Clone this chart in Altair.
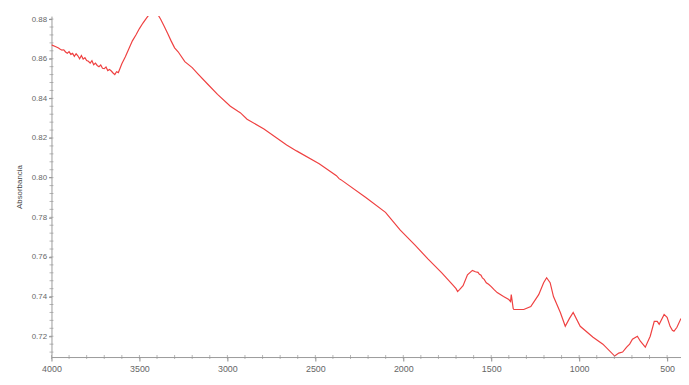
import altair as alt
import pandas as pd

wavenumber = [4000, 3975, 3960, 3950, 3940, 3930, 3920, 3910, 3900, 3890, 3880, 3870,
              3860, 3850, 3840, 3830, 3820, 3810, 3800, 3790, 3780, 3770, 3760, 3750,
              3740, 3730, 3720, 3710, 3700, 3690, 3680, 3670, 3660, 3650, 3640, 3630,
              3620, 3610, 3600, 3580, 3560, 3540, 3520, 3500, 3480, 3460,
              3440, 3420, 3400, 3380, 3360, 3340, 3320, 3300, 3280, 3242, 3200, 3169,
              3110, 3056, 2983, 2940, 2927, 2915, 2888, 2792, 2663, 2607, 2478, 2380,
              2365, 2355, 2213, 2101, 2017, 1933, 1860, 1781, 1720, 1700, 1691, 1680,
              1660, 1635, 1607, 1590, 1575, 1567, 1558, 1550, 1540, 1528, 1515, 1500,
              1485, 1466, 1430, 1400, 1390,
              1386, 1382, 1375, 1371, 1340, 1315, 1275, 1230, 1202, 1185, 1165, 1146,
              1107, 1079, 1055, 1034, 994, 921, 865, 798, 775, 753, 730, 713, 697, 669,
              652, 624, 596, 573, 556, 545, 517, 500, 483, 470, 461, 444, 421]
absorbance = [0.8670, 0.8660, 0.8654, 0.8648, 0.8643, 0.8645, 0.8634, 0.8628, 0.8636,
              0.8622, 0.8627, 0.8612, 0.8625, 0.8615, 0.8600, 0.8616, 0.8598, 0.8605,
              0.8591, 0.8587, 0.8578, 0.8590, 0.8570, 0.8578, 0.8566, 0.8560, 0.8568,
              0.8552, 0.8550, 0.8558, 0.8540, 0.8546, 0.8538, 0.8528, 0.8520, 0.8534,
              0.8530, 0.8552, 0.8575, 0.8610, 0.8650, 0.8690, 0.8720, 0.8752, 0.8780,
              0.8805,
              0.8828, 0.8840, 0.8830, 0.8800, 0.8765, 0.8728, 0.8690, 0.8655, 0.8635,
              0.8585, 0.8555, 0.8525, 0.8470, 0.8420, 0.8360, 0.8335, 0.8328, 0.8318,
              0.8295, 0.8245, 0.8165, 0.8135, 0.8070, 0.8010, 0.7995, 0.7990, 0.7900,
              0.7825, 0.7735, 0.7660, 0.7590, 0.7520, 0.7460, 0.7440, 0.7425, 0.7435,
              0.7455, 0.7510, 0.7532, 0.7525, 0.7522, 0.7512, 0.7508, 0.7494, 0.7487,
              0.7470, 0.7462, 0.7450, 0.7436, 0.7420,
              0.7400, 0.7385, 0.7375, 0.7410, 0.7385, 0.7340, 0.7335, 0.7335, 0.7335,
              0.7350, 0.7410, 0.7470, 0.7495, 0.7470, 0.7400, 0.7320, 0.7250, 0.7290,
              0.7320, 0.7250, 0.7195, 0.7160, 0.7100, 0.7115, 0.7120, 0.7145, 0.7160,
              0.7185, 0.7200, 0.7175, 0.7145, 0.7200, 0.7275, 0.7275, 0.7260, 0.7310,
              0.7295, 0.7250, 0.7230, 0.7225, 0.7245, 0.7290]

x_major = [4000, 3500, 3000, 2500, 2000, 1500, 1000, 500]
x_minor = list(range(4000, 420, -100))
y_major = [0.72, 0.74, 0.76, 0.78, 0.80, 0.82, 0.84, 0.86, 0.88]
y_minor = [round(0.712 + 0.004 * i, 3) for i in range(43)]

df = pd.DataFrame({"wn": wavenumber, "a": absorbance})

W, H = 637, 345
xs = alt.Scale(domain=[4000, 421], nice=False, zero=False)
ys = alt.Scale(domain=[0.7095, 0.8815], nice=False, zero=False)
lab_font = "Liberation Sans Narrow, Liberation Sans, sans-serif"

x_axis = alt.Axis(
    values=x_major, format="d", title="Número de Ondas (cm-1)",
    titleFontSize=8, titleFont="Liberation Sans", titleColor="#444", titleFontWeight="normal",
    titlePadding=6, labelFontSize=9, labelFont=lab_font, labelColor="#666",
    labelFlush=False, labelOverlap=False,
    tickSize=4, tickColor="#888", domainColor="#999", labelPadding=4, grid=False)
y_axis = alt.Axis(
    values=y_major, format=".2f", title="Absorbancia",
    titleFontSize=8, titleFont="Liberation Sans", titleColor="#444", titleFontWeight="normal",
    titlePadding=8, labelFontSize=8, labelFont=lab_font, labelColor="#666",
    labelFlush=False, labelOverlap=False,
    tickSize=3, tickColor="#888", domainColor="#999", labelPadding=2, grid=False)

line = alt.Chart(df).mark_line(color="#ef4141", strokeWidth=1.2, clip=True).encode(
    x=alt.X("wn:Q", scale=xs, axis=x_axis),
    y=alt.Y("a:Q", scale=ys, axis=y_axis),
)

minor_x = alt.Chart(pd.DataFrame({"wn": x_minor})).mark_tick(
    orient="vertical", color="#999", size=4, thickness=1).encode(
    x=alt.X("wn:Q", scale=xs, axis=x_axis), y=alt.value(H))

minor_y = alt.Chart(pd.DataFrame({"a": y_minor})).mark_tick(
    orient="horizontal", color="#999", size=4, thickness=1).encode(
    y=alt.Y("a:Q", scale=ys, axis=y_axis), x=alt.value(0))

title = alt.Chart(pd.DataFrame({"t": ["FTIR"]})).mark_text(
    fontSize=30, fontWeight="bold", font="Liberation Sans", color="#111",
    baseline="alphabetic", align="center").encode(
    text="t:N", x=alt.value(278), y=alt.value(-9))

chart = alt.layer(line, minor_x, minor_y, title).properties(
    width=W, height=H,
    autosize=alt.AutoSizeParams(type="none"),
    padding={"left": 44, "top": 6, "right": 0, "bottom": 18},
).configure_view(stroke=None)

chart.save("out.html", embed_options={"renderer": "svg", "actions": False})
